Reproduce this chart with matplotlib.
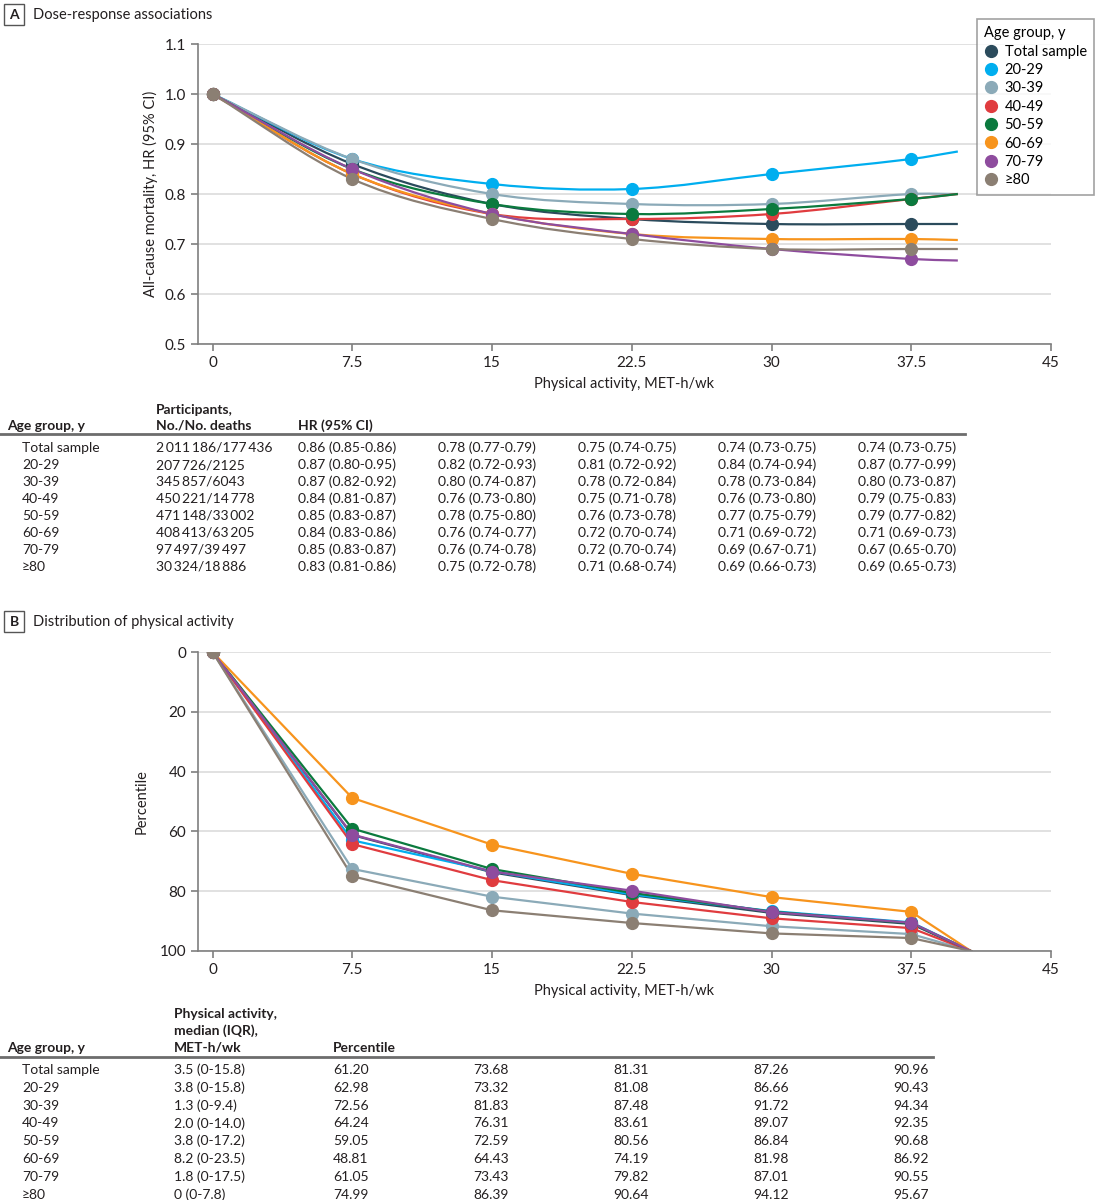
import numpy as np
import matplotlib
matplotlib.use("Agg")
import matplotlib.pyplot as plt
from matplotlib.path import Path
from matplotlib.patches import PathPatch, Rectangle

plt.rcParams['font.family'] = ['Lato', 'DejaVu Sans']

#%% Data
groups = ["Total sample", "20-29", "30-39", "40-49", "50-59", "60-69", "70-79", "\u226580"]
colors = ["#2B4B5C", "#00AEEF", "#8BAAB8", "#E03C3F", "#0B7A3E", "#F7941D", "#8E4C9E", "#8B7F73"]

met = [0, 7.5, 15, 22.5, 30, 37.5]
curve_end_x = 40          # where the spline curves stop in panel A
dist_end_x = 40.7         # where the percentile lines reach 100 in panel B

participants = ["2\u2009011\u2009186/177\u2009436", "207\u2009726/2125", "345\u2009857/6043",
                "450\u2009221/14\u2009778", "471\u2009148/33\u2009002", "408\u2009413/63\u2009205",
                "97\u2009497/39\u2009497", "30\u2009324/18\u2009886"]

# HR at 7.5, 15, 22.5, 30, 37.5 MET-h/wk
hr = [[0.86, 0.78, 0.75, 0.74, 0.74],
      [0.87, 0.82, 0.81, 0.84, 0.87],
      [0.87, 0.80, 0.78, 0.78, 0.80],
      [0.84, 0.76, 0.75, 0.76, 0.79],
      [0.85, 0.78, 0.76, 0.77, 0.79],
      [0.84, 0.76, 0.72, 0.71, 0.71],
      [0.85, 0.76, 0.72, 0.69, 0.67],
      [0.83, 0.75, 0.71, 0.69, 0.69]]
hr_lo = [[0.85, 0.77, 0.74, 0.73, 0.73],
         [0.80, 0.72, 0.72, 0.74, 0.77],
         [0.82, 0.74, 0.72, 0.73, 0.73],
         [0.81, 0.73, 0.71, 0.73, 0.75],
         [0.83, 0.75, 0.73, 0.75, 0.77],
         [0.83, 0.74, 0.70, 0.69, 0.69],
         [0.83, 0.74, 0.70, 0.67, 0.65],
         [0.81, 0.72, 0.68, 0.66, 0.65]]
hr_hi = [[0.86, 0.79, 0.75, 0.75, 0.75],
         [0.95, 0.93, 0.92, 0.94, 0.99],
         [0.92, 0.87, 0.84, 0.84, 0.87],
         [0.87, 0.80, 0.78, 0.80, 0.83],
         [0.87, 0.80, 0.78, 0.79, 0.82],
         [0.86, 0.77, 0.74, 0.72, 0.73],
         [0.87, 0.78, 0.74, 0.71, 0.70],
         [0.86, 0.78, 0.74, 0.73, 0.73]]
# curve value at the right end
hr_end = [0.74, 0.885, 0.80, 0.80, 0.80, 0.708, 0.667, 0.69]

median_iqr = ["3.5 (0-15.8)", "3.8 (0-15.8)", "1.3 (0-9.4)", "2.0 (0-14.0)",
              "3.8 (0-17.2)", "8.2 (0-23.5)", "1.8 (0-17.5)", "0 (0-7.8)"]
pctl = [[61.20, 73.68, 81.31, 87.26, 90.96],
        [62.98, 73.32, 81.08, 86.66, 90.43],
        [72.56, 81.83, 87.48, 91.72, 94.34],
        [64.24, 76.31, 83.61, 89.07, 92.35],
        [59.05, 72.59, 80.56, 86.84, 90.68],
        [48.81, 64.43, 74.19, 81.98, 86.92],
        [61.05, 73.43, 79.82, 87.01, 90.55],
        [74.99, 86.39, 90.64, 94.12, 95.67]]

#%% Figure
W, H = 1098, 1200
fig = plt.figure(figsize=(W / 100, H / 100), dpi=100)
TXT = "#231f20"
GRID = "#dcdcdc"
SPINE = "#7f7f7f"
TAB_FS = 10

def fx(px):
    return px / W

def fy(py):
    return 1 - py / H

def ftext(x, y, s, **kw):
    kw.setdefault("fontsize", TAB_FS)
    kw.setdefault("color", TXT)
    kw.setdefault("va", "center")
    fig.text(fx(x), fy(y), s, **kw)

def panel_label(y, letter, title):
    fig.add_artist(Rectangle((fx(4), fy(y + 10)), fx(20), 21 / H, transform=fig.transFigure,
                             fc="white", ec="#555555", lw=1))
    ftext(14, y, letter, ha="center", fontsize=10, fontweight="bold")
    ftext(33, y, title, fontsize=10.5)

def style_axes(ax):
    for s in ["top", "right"]:
        ax.spines[s].set_visible(False)
    for s in ["left", "bottom"]:
        ax.spines[s].set_color(SPINE)
        ax.spines[s].set_linewidth(1.2)
    ax.tick_params(colors=SPINE, labelcolor=TXT, labelsize=11, length=5, width=1.2)
    ax.yaxis.grid(True, color=GRID, lw=1.2)
    ax.set_axisbelow(True)
    ax.set_xlim(-0.78, 45)
    ax.set_xticks([0, 7.5, 15, 22.5, 30, 37.5, 45])
    ax.set_xticklabels(["0", "7.5", "15", "22.5", "30", "37.5", "45"])
    ax.set_xlabel("Physical activity, MET-h/wk", fontsize=10.5, color=TXT, labelpad=5)

def smooth_path(xs, ys):
    # cubic Hermite drawn as Bezier segments through the data points
    xs = np.asarray(xs, float)
    ys = np.asarray(ys, float)
    n = len(xs)
    m = np.zeros(n)
    m[0] = (ys[1] - ys[0]) / (xs[1] - xs[0])
    m[-1] = (ys[-1] - ys[-2]) / (xs[-1] - xs[-2])
    for i in range(1, n - 1):
        m[i] = (ys[i + 1] - ys[i - 1]) / (xs[i + 1] - xs[i - 1])
    verts = [(xs[0], ys[0])]
    codes = [Path.MOVETO]
    for i in range(n - 1):
        h = xs[i + 1] - xs[i]
        verts += [(xs[i] + h / 3, ys[i] + m[i] * h / 3),
                  (xs[i + 1] - h / 3, ys[i + 1] - m[i + 1] * h / 3),
                  (xs[i + 1], ys[i + 1])]
        codes += [Path.CURVE4] * 3
    return Path(verts, codes)

#%% Panel A
panel_label(15, "A", "Dose-response associations")
axA = fig.add_axes([fx(198), fy(344), fx(1051 - 198), 300 / H])
style_axes(axA)
axA.set_ylim(0.5, 1.1)
axA.set_yticks(np.arange(0.5, 1.11, 0.1))
axA.set_yticklabels([f"{v:.1f}" for v in np.arange(0.5, 1.11, 0.1)])
axA.set_ylabel("All-cause mortality, HR (95% CI)", fontsize=10.5, color=TXT, labelpad=5)

for i, g in enumerate(groups):
    xs = met + [curve_end_x]
    ys = [1.0] + hr[i] + [hr_end[i]]
    axA.add_patch(PathPatch(smooth_path(xs, ys), fc="none", ec=colors[i], lw=1.6, zorder=2))
    axA.plot(met, [1.0] + hr[i], "o", color=colors[i], ms=8.5, zorder=3, label=g)

leg = fig.legend(*axA.get_legend_handles_labels(), loc="upper right",
                 bbox_to_anchor=(fx(1094), fy(19)), borderaxespad=0, title="Age group, y",
                 fontsize=10.5, title_fontsize=10.5, frameon=True, fancybox=False,
                 edgecolor="#8a8a8a", handletextpad=0.4, handlelength=1.0,
                 labelspacing=0.3, borderpad=0.5, alignment="left")
leg.get_frame().set_linewidth(1.2)

# Table A
ftext(156, 410, "Participants,", fontweight="bold")
ftext(7, 426, "Age group, y", fontweight="bold")
ftext(156, 426, "No./No. deaths", fontweight="bold")
ftext(298, 426, "HR (95% CI)", fontweight="bold")
fig.add_artist(plt.Line2D([0, fx(965)], [fy(434), fy(434)], color="#6d6d6d", lw=2))
col_x = [298, 438, 578, 718, 858]
for i, g in enumerate(groups):
    y = 448 + 17 * i
    ftext(22, y, g)
    ftext(156, y, participants[i])
    for k in range(5):
        ftext(col_x[k], y, f"{hr[i][k]:.2f} ({hr_lo[i][k]:.2f}-{hr_hi[i][k]:.2f})")

#%% Panel B
panel_label(622, "B", "Distribution of physical activity")
axB = fig.add_axes([fx(198), fy(951), fx(1051 - 198), 299 / H])
style_axes(axB)
axB.set_ylim(100, 0)
axB.set_yticks([0, 20, 40, 60, 80, 100])
axB.set_ylabel("Percentile", fontsize=10.5, color=TXT, labelpad=8)

for i, g in enumerate(groups):
    axB.plot(met + [dist_end_x], [0] + pctl[i] + [100], "-", color=colors[i], lw=1.6, zorder=2)
    axB.plot(met, [0] + pctl[i], "o", color=colors[i], ms=8.5, zorder=3)

# Table B
ftext(174, 1014, "Physical activity,", fontweight="bold")
ftext(174, 1031, "median (IQR),", fontweight="bold")
ftext(7, 1048, "Age group, y", fontweight="bold")
ftext(174, 1048, "MET-h/wk", fontweight="bold")
ftext(333, 1048, "Percentile", fontweight="bold")
fig.add_artist(plt.Line2D([0, fx(933)], [fy(1057), fy(1057)], color="#6d6d6d", lw=2))
pc_x = [333, 473, 613, 753, 893]
for i, g in enumerate(groups):
    y = 1070 + 17.8 * i
    ftext(22, y, g)
    ftext(174, y, median_iqr[i])
    for k in range(5):
        ftext(pc_x[k], y, f"{pctl[i][k]:.2f}")

fig.savefig("out.png", dpi=100)
